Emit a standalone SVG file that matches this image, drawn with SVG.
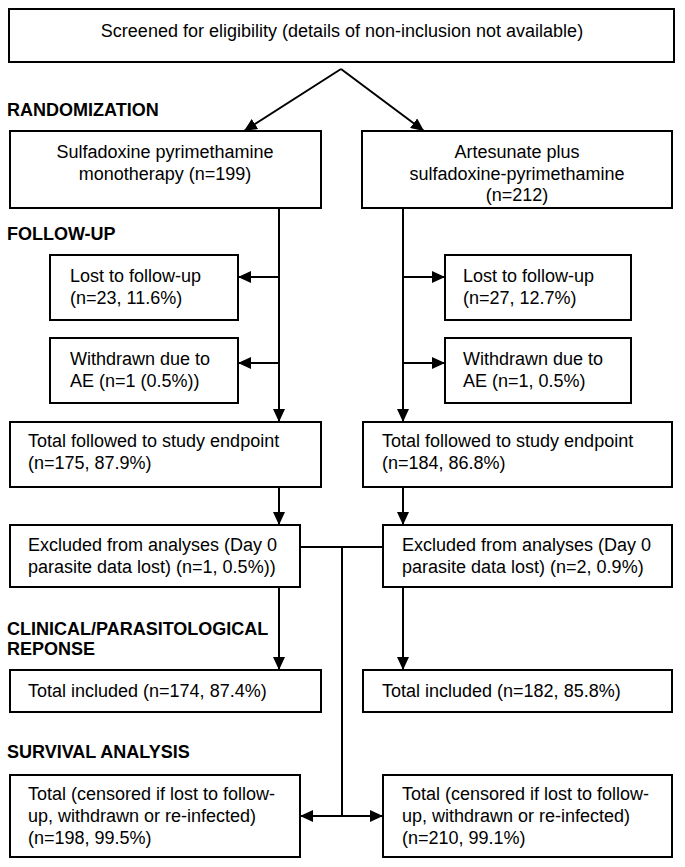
<svg xmlns="http://www.w3.org/2000/svg" width="685" height="867" viewBox="0 0 685 867">
<style>
.box{fill:#fff;stroke:#000;stroke-width:2}
.t{font-family:"Liberation Sans",Arial,Helvetica,sans-serif;font-size:18px;fill:#000}
.c{text-anchor:middle}
.h{font-family:"Liberation Sans",Arial,Helvetica,sans-serif;font-size:18px;font-weight:bold;fill:#000}
.ln{stroke:#000;stroke-width:2;fill:none}
.ar{marker-end:url(#ah)}
</style>
<defs>
<marker id="ah" viewBox="0 0 13 12" refX="13" refY="6" markerWidth="13" markerHeight="12" markerUnits="userSpaceOnUse" orient="auto-start-reverse">
<path d="M0,0 L13,6 L0,12 z" fill="#000"/>
</marker>
</defs>
<rect width="685" height="867" fill="#fff"/>

<g id="labels">
<text class="h" x="7" y="116">RANDOMIZATION</text>
<text class="h" x="7" y="240">FOLLOW-UP</text>
<text class="h" x="7" y="635">CLINICAL/PARASITOLOGICAL</text>
<text class="h" x="7" y="655">REPONSE</text>
<text class="h" x="7" y="758">SURVIVAL ANALYSIS</text>
</g>

<g id="connectors">
<line class="ln ar" x1="341" y1="69" x2="244" y2="131"/>
<line class="ln ar" x1="341" y1="69" x2="424" y2="131"/>
<line class="ln ar" x1="279" y1="208" x2="279" y2="422"/>
<line class="ln ar" x1="403" y1="208" x2="403" y2="422"/>
<line class="ln ar" x1="279" y1="277" x2="238" y2="277"/>
<line class="ln ar" x1="279" y1="363" x2="238" y2="363"/>
<line class="ln ar" x1="403" y1="277" x2="445" y2="277"/>
<line class="ln ar" x1="403" y1="363" x2="445" y2="363"/>
<line class="ln ar" x1="279" y1="487" x2="279" y2="525"/>
<line class="ln ar" x1="403" y1="487" x2="403" y2="525"/>
<line class="ln ar" x1="279" y1="587" x2="279" y2="670"/>
<line class="ln ar" x1="403" y1="587" x2="403" y2="670"/>
<line class="ln" x1="300" y1="547" x2="383" y2="547"/>
<line class="ln" x1="342" y1="547" x2="342" y2="816"/>
<line class="ln ar" x1="342" y1="816" x2="300" y2="816"/>
<line class="ln ar" x1="342" y1="816" x2="383" y2="816"/>
</g>

<g id="screened">
<rect class="box" x="9" y="9" width="665" height="53"/>
<text class="t c" x="342" y="37">Screened for eligibility (details of non-inclusion not available)</text>
</g>

<g id="sp">
<rect class="box" x="10" y="131" width="311" height="77"/>
<text class="t c" x="165" y="158">Sulfadoxine pyrimethamine</text>
<text class="t c" x="165" y="180">monotherapy (n=199)</text>
</g>

<g id="assp">
<rect class="box" x="362" y="131" width="310" height="77"/>
<text class="t c" x="517" y="158">Artesunate plus</text>
<text class="t c" x="517" y="180">sulfadoxine-pyrimethamine</text>
<text class="t c" x="517" y="201">(n=212)</text>
</g>

<g id="lost-sp">
<rect class="box" x="50" y="255" width="188" height="65"/>
<text class="t" x="70" y="282">Lost to follow-up</text>
<text class="t" x="70" y="304">(n=23, 11.6%)</text>
</g>

<g id="lost-assp">
<rect class="box" x="445" y="255" width="186" height="65"/>
<text class="t" x="463" y="282">Lost to follow-up</text>
<text class="t" x="463" y="304">(n=27, 12.7%)</text>
</g>

<g id="withdrawn-sp">
<rect class="box" x="50" y="338" width="188" height="65"/>
<text class="t" x="70" y="365">Withdrawn due to</text>
<text class="t" x="70" y="387">AE (n=1 (0.5%))</text>
</g>

<g id="withdrawn-assp">
<rect class="box" x="445" y="338" width="186" height="65"/>
<text class="t" x="463" y="365">Withdrawn due to</text>
<text class="t" x="463" y="387">AE (n=1, 0.5%)</text>
</g>

<g id="followed-sp">
<rect class="box" x="10" y="422" width="311" height="65"/>
<text class="t" x="28" y="447">Total followed to study endpoint</text>
<text class="t" x="28" y="469">(n=175, 87.9%)</text>
</g>

<g id="followed-assp">
<rect class="box" x="363" y="422" width="309" height="65"/>
<text class="t" x="382" y="447">Total followed to study endpoint</text>
<text class="t" x="382" y="469">(n=184, 86.8%)</text>
</g>

<g id="excluded-sp">
<rect class="box" x="10" y="525" width="290" height="62"/>
<text class="t" x="28" y="551">Excluded from analyses (Day 0</text>
<text class="t" x="28" y="573">parasite data lost) (n=1, 0.5%))</text>
</g>

<g id="excluded-assp">
<rect class="box" x="383" y="525" width="289" height="62"/>
<text class="t" x="402" y="551">Excluded from analyses (Day 0</text>
<text class="t" x="402" y="573">parasite data lost) (n=2, 0.9%)</text>
</g>

<g id="included-sp">
<rect class="box" x="10" y="670" width="311" height="42"/>
<text class="t" x="28" y="697">Total included (n=174, 87.4%)</text>
</g>

<g id="included-assp">
<rect class="box" x="363" y="670" width="309" height="42"/>
<text class="t" x="382" y="697">Total included (n=182, 85.8%)</text>
</g>

<g id="survival-sp">
<rect class="box" x="10" y="775" width="290" height="82"/>
<text class="t" x="28" y="800">Total (censored if lost to follow-</text>
<text class="t" x="28" y="822">up, withdrawn or re-infected)</text>
<text class="t" x="28" y="844">(n=198, 99.5%)</text>
</g>

<g id="survival-assp">
<rect class="box" x="383" y="775" width="289" height="82"/>
<text class="t" x="402" y="800">Total (censored if lost to follow-</text>
<text class="t" x="402" y="822">up, withdrawn or re-infected)</text>
<text class="t" x="402" y="844">(n=210, 99.1%)</text>
</g>
</svg>
